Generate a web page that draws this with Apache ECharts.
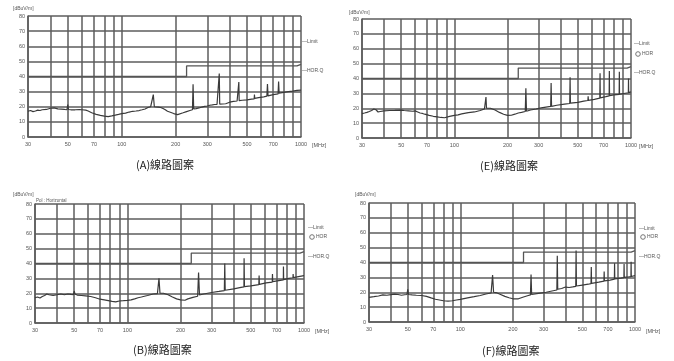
<!DOCTYPE html>
<html><head><meta charset="utf-8">
<script src="https://cdn.jsdelivr.net/npm/echarts@6/dist/echarts.min.js"></script>
<style>html,body{margin:0;padding:0;background:#fff}#c{width:674px;height:361px}</style>
</head><body><div id="c"></div>
<script>
// ---- data ----
const xGridValues = [30,40,50,60,70,80,90,100,200,300,400,500,600,700,800,900,1000];
const xLabelValues = [30,50,70,100,200,300,500,700,1000];
const yTicks = [0,10,20,30,40,50,60,70,80];
const captions = ['(A)線路圖案','(E)線路圖案','(B)線路圖案','(F)線路圖案'];

const limitFreq  = [30, 230, 230, 950, 1000];
const limitLevel = [40, 40, 47, 47, 48];

const freqA  = [30,31,32,33,34,35,36,38,40,42,44,46,48,49.5,50,50.5,52,55,58,60,63,65,68,72,76,80,84,88,92,96,100,105,110,115,120,125,130,135,140,145,148,150,152,155,160,165,170,175,180,185,190,195,200,205,210,220,230,240,248,250,252,260,270,280,290,300,310,320,330,340,348,350,352,360,380,400,420,440,448,450,452,470,500,530,548,550,552,580,620,645,650,655,700,745,750,755,800,850,900,950,1000];
const levelA = [17,17.5,16.8,17.2,17.8,17.5,18,18.2,19,19.3,18.6,18.4,18.2,18,21.5,18.2,18,18,18.1,18,17.8,17.2,16,15,14.3,13.8,13.5,14,14.5,15,15.5,15.8,16.5,17,17.2,17.5,18,18.5,19.5,20,20,28,20,19.8,19.8,19.5,18.8,18,17,16.5,16,15.5,15,14.8,15,16,16.8,17.5,18,34.8,18.5,18.8,19.2,19.8,20.2,20.5,21,21.2,21.5,21.5,21.5,42,21.8,22,22,23,23.5,23.8,24,36.3,24,24.3,24.5,25,25.2,28,25.5,26,26.5,27,35,27.2,28,28.5,36.6,29,29.5,30,30.3,30.8,31];

const freqE  = [30,31,32,33,34,35,36,37,38,40,43,46,50,52,55,58,60,62,64,65,66,68,72,76,80,84,88,90,94,100,105,110,120,130,140,148,150,151,152,155,160,170,180,190,200,205,210,220,230,240,252,254,256,270,290,310,330,351,353,355,380,420,450,452,454,500,540,570,572,574,620,666,668,670,720,752,754,756,800,857,859,861,910,966,968,970,1000];
const levelE = [16.4,16.8,17.2,17.8,18.5,19.5,19,17.5,17.8,18.2,18.5,18.6,18.8,18.5,18.3,18,18.2,17.5,16.8,17.8,16.5,16,15.2,14.6,14.2,13.8,13.6,14,14.5,15.2,15.6,16.2,17,17.5,18.5,19.5,20,27.5,20,20.5,20,18.8,17.2,16,15.2,15,15.3,16,16.8,17.2,17.8,33.5,18,18.8,19.5,20.2,20.8,21.2,37,21.3,22,22.8,23.2,40.8,23.4,24,24.8,25.2,28,25.3,26,26.8,43.5,27,27.8,28.3,45,28.4,29,29.3,44.5,29.4,29.9,30.4,40,30.5,31];

const freqB  = [30,31,32,33,34,35,36,38,40,42,44,46,48,49.5,50,50.5,52,55,58,62,66,70,74,78,82,86,90,95,100,105,110,115,120,130,140,148,151,153,160,170,180,190,200,205,212,220,235,250,253,256,270,300,330,354,356,358,400,440,457,458,460,500,555,557,559,610,661,663,665,720,764,765,767,820,866,868,870,930,1000];
const levelB = [17,17.5,16.8,17.8,18.5,19.5,19,18.5,19,19.5,19,19.5,19.2,19,21.5,19.5,18.8,18.5,18.2,17.8,17,16,15.5,15,14.5,14.2,14.8,15,15.2,15.5,16.2,17,17.5,18.5,19.5,19.8,30,20,20,19,17.5,16.2,15.5,15,15.3,16.2,17.2,18,34,18.8,19.5,20.5,21.2,21.8,40,22,23,24,24.3,43.5,24.4,25,25.8,32,26,27,27.5,33,27.8,28.5,29,38,29.2,30,30.4,33,30.5,31.2,31.8];

const freqF  = [30,32,34,36,38,40,42,44,46,48,49.5,50,50.5,53,56,60,64,68,72,76,80,85,90,95,100,110,120,130,140,150,153,155,160,170,180,190,200,205,215,230,245,252,254,256,280,310,340,357,359,361,380,400,410,420,440,458,460,462,500,540,560,562,564,620,664,666,668,720,762,764,766,830,864,866,868,920,948,950,952,1000];
const levelF = [16.5,17,17.5,18.2,18,18.4,18.8,18.5,18,18.3,18.5,22,18.5,18.2,18,17.8,17.2,16.2,15.3,14.8,14.3,14,14.3,14.8,15.2,16.2,17,17.8,18.8,19.5,31.5,20,19.8,18.5,17.2,16.3,15.6,15.3,15.6,16.8,17.8,18.2,32,18.5,19.2,20,21,21.5,44.5,22,22.5,23.5,24.5,23.2,23.6,24,48,24.2,24.8,25.4,25.8,37,26,26.8,27.5,34,27.7,28.2,28.8,39.5,29,29.5,29.8,39,30,30.3,30.5,40.5,30.6,31.2];

const panelFreqs  = [freqA, freqE, freqB, freqF];
const panelLevels = [levelA, levelE, levelB, levelF];

// ---- layout (pixel placement of each panel) ----
const layout = [
  {left:28, top:16, width:273, height:121, cap:[173,166], yName:[13,9], mhz:[312,145], legend:{x:302, limit:42, hor:null, q:71}},
  {left:362, top:19, width:269, height:119, cap:[517,167], yName:[349,13], mhz:[639,146], legend:{x:634, limit:44, hor:54, q:73}},
  {left:35, top:204, width:269, height:119, cap:[170,351], yName:[13,195], mhz:[315,331], legend:{x:308, limit:228, hor:237, q:257}, pol:true},
  {left:369, top:203, width:266, height:119, cap:[519,352], yName:[355,195], mhz:[646,331], legend:{x:639, limit:229, hor:237, q:257}}
];

const gridColor = '#5c5c5c';
const textColor = '#555';
const tickFont = 'Liberation Sans';

const zip = (a, b) => a.map((v, i) => [v, b[i]]);

const grids = [], xAxes = [], yAxes = [], series = [], graphics = [];
layout.forEach((p, i) => {
  grids.push({left:p.left, top:p.top, width:p.width, height:p.height, show:false});
  xAxes.push({
    type:'log', logBase:10, min:30, max:1000, gridIndex:i,
    axisLine:{show:true, onZero:false, lineStyle:{color:gridColor, width:1.5}},
    axisTick:{show:false, customValues:xGridValues},
    axisLabel:{customValues:xLabelValues, fontSize:5.5, color:textColor, margin:4, fontFamily:tickFont,
      formatter: v => String(Math.round(v))},
    splitLine:{show:true, lineStyle:{color:gridColor, width:1.5}},
    minorTick:{show:false}, minorSplitLine:{show:false}
  });
  yAxes.push({
    type:'value', min:0, max:80, interval:10, gridIndex:i,
    axisLine:{show:true, lineStyle:{color:gridColor, width:1.5}},
    axisTick:{show:false},
    axisLabel:{fontSize:5.5, color:textColor, margin:3, fontFamily:tickFont},
    splitLine:{show:true, lineStyle:{color:gridColor, width:1.5}}
  });
  series.push({
    type:'line', xAxisIndex:i, yAxisIndex:i, showSymbol:false, silent:true,
    data: zip(limitFreq, limitLevel),
    lineStyle:{color:'#555', width:1.3}
  });
  series.push({
    type:'line', xAxisIndex:i, yAxisIndex:i, showSymbol:false, silent:true,
    data: zip(panelFreqs[i], panelLevels[i]),
    lineStyle:{color:'#3a3a3a', width:1.2}
  });
  graphics.push({type:'text', left:p.cap[0]-37, top:p.cap[1]-7,
    style:{text:captions[i], font:'11px "Noto Sans CJK TC"', fill:'#222'}});
  graphics.push({type:'text', left:p.yName[0], top:p.yName[1]-3,
    style:{text:'[dBuV/m]', font:'5px "Liberation Sans"', fill:textColor}});
  graphics.push({type:'text', left:p.mhz[0], top:p.mhz[1]-3,
    style:{text:'[MHz]', font:'5.5px "Liberation Sans"', fill:textColor}});
  const lg = p.legend;
  graphics.push({type:'text', left:lg.x, top:lg.limit-3,
    style:{text:'—Limit', font:'5px "Liberation Sans"', fill:textColor}});
  if (lg.hor !== null) {
    graphics.push({type:'circle', shape:{cx:lg.x+4, cy:lg.hor, r:2.3},
      style:{fill:'none', stroke:'#666', lineWidth:0.9}});
    graphics.push({type:'text', left:lg.x+8, top:lg.hor-3,
      style:{text:'HOR', font:'5px "Liberation Sans"', fill:textColor}});
  }
  graphics.push({type:'text', left:lg.x, top:lg.q-3,
    style:{text:'—HOR.Q', font:'5px "Liberation Sans"', fill:textColor}});
  if (p.pol) graphics.push({type:'text', left:p.left+1, top:p.top-6,
    style:{text:'Pol : Horizontal', font:'4.5px "Liberation Sans"', fill:textColor}});
});

const chart = echarts.init(document.getElementById('c'), null, {renderer:'canvas'});
chart.setOption({
  animation:false,
  backgroundColor:'#fff',
  grid:grids, xAxis:xAxes, yAxis:yAxes, series:series,
  graphic:graphics
});
</script>
</body></html>
